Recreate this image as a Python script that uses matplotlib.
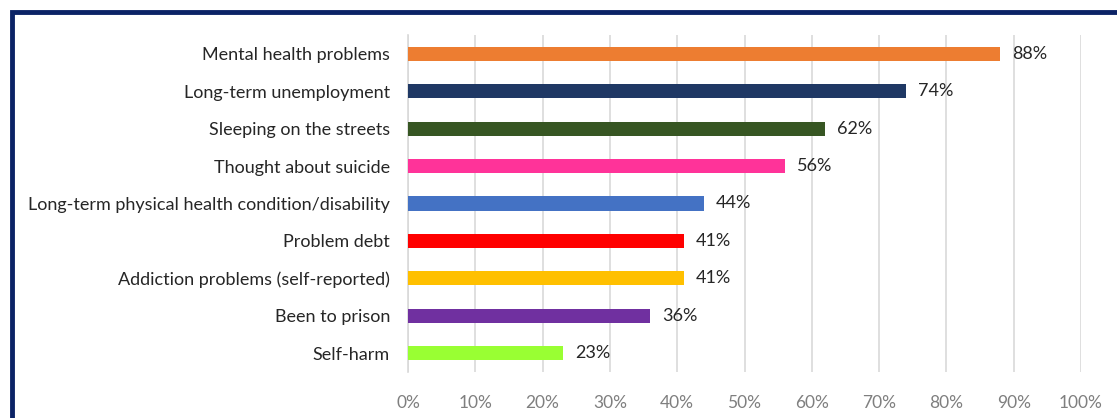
import matplotlib.pyplot as plt
from matplotlib.patches import Rectangle

categories = ['Mental health problems', 'Long-term unemployment', 'Sleeping on the streets',
              'Thought about suicide', 'Long-term physical health condition/disability',
              'Problem debt', 'Addiction problems (self-reported)', 'Been to prison', 'Self-harm']
values = [88, 74, 62, 56, 44, 41, 41, 36, 23]
colors = ['#ED7D31', '#1F3864', '#375623', '#FF3399', '#4472C4',
          '#FF0000', '#FFC000', '#7030A0', '#99FF33']
xticks = list(range(0, 101, 10))

plt.rcParams['font.family'] = ['Lato', 'DejaVu Sans']

fig = plt.figure(figsize=(11.17, 4.18), dpi=100)
ax = fig.add_axes([408 / 1117, 1 - 371.7 / 418, 673 / 1117, 336.4 / 418])

ypos = list(range(len(categories)))
ax.barh(ypos, values, height=0.38, color=colors, zorder=3)
for y, v in zip(ypos, values):
    ax.text(v + 1.8, y, f'{v}%', va='center', ha='left', fontsize=13, color='#262626')

ax.set_xlim(0, 100)
ax.set_ylim(len(categories) - 0.5, -0.5)
ax.set_yticks(ypos)
ax.set_yticklabels(categories, fontsize=13, color='#262626')
ax.set_xticks(xticks)
ax.set_xticklabels([f'{t}%' for t in xticks], fontsize=12.5, color='#7f7f7f')
ax.tick_params(axis='both', length=0)
ax.tick_params(axis='y', pad=13)
ax.tick_params(axis='x', pad=17)
ax.grid(axis='x', color='#d9d9d9', linewidth=1.2, zorder=0)
for s in ['top', 'right', 'bottom']:
    ax.spines[s].set_visible(False)
ax.spines['left'].set_color('#d9d9d9')
ax.spines['left'].set_linewidth(1.2)

# dark frame around the chart, cut off at right and bottom
fig.patches.append(Rectangle((11.5 / 1117, -0.2), 1.2, 1.2 - 11.5 / 418,
                             transform=fig.transFigure, fill=False,
                             edgecolor='#0B2366', linewidth=3.5))

fig.savefig('out.png', dpi=100)
